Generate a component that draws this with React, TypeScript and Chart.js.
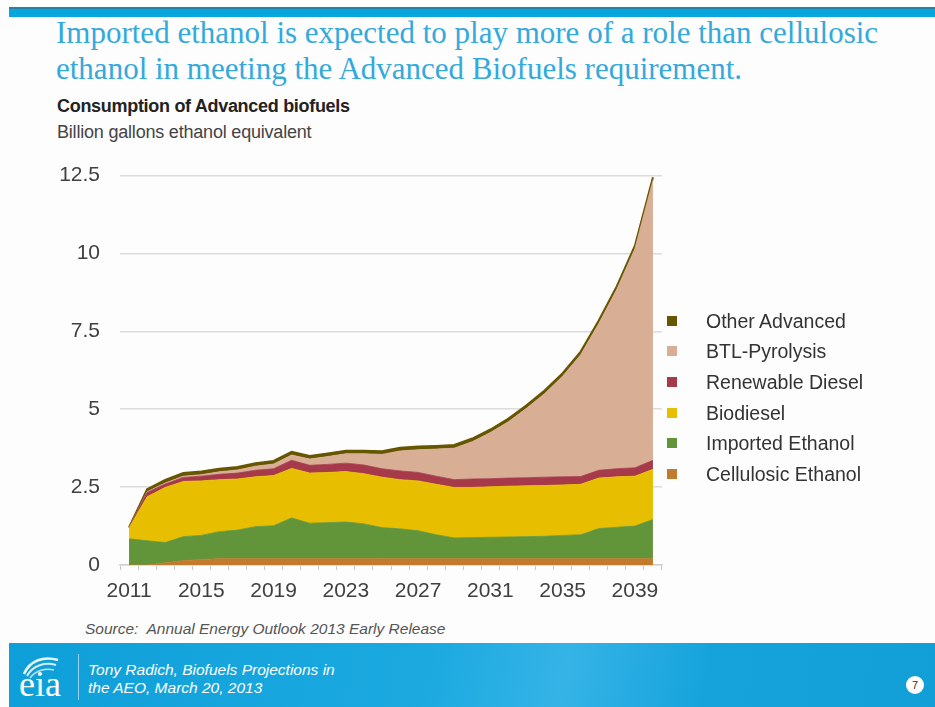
import React, { useEffect, useRef } from 'react';
import { Chart, registerables } from 'chart.js';

Chart.register(...registerables);

// ---------- data ----------
const years = [
  '2011', '2012', '2013', '2014', '2015', '2016', '2017', '2018', '2019', '2020',
  '2021', '2022', '2023', '2024', '2025', '2026', '2027', '2028', '2029', '2030',
  '2031', '2032', '2033', '2034', '2035', '2036', '2037', '2038', '2039', '2040',
];
const xTickLabels = ['2011', '2015', '2019', '2023', '2027', '2031', '2035', '2039'];
const yTickValues = [0, 2.5, 5, 7.5, 10, 12.5];

const cellulosicEthanol = [
  0, 0, 0.07, 0.14, 0.18, 0.2, 0.2, 0.2, 0.2, 0.2,
  0.2, 0.2, 0.2, 0.2, 0.2, 0.2, 0.2, 0.2, 0.2, 0.2,
  0.2, 0.2, 0.2, 0.2, 0.2, 0.2, 0.2, 0.2, 0.2, 0.2,
];
const importedEthanol = [
  0.84, 0.78, 0.65, 0.77, 0.77, 0.87, 0.92, 1.03, 1.06, 1.31,
  1.14, 1.16, 1.18, 1.12, 1.0, 0.96, 0.9, 0.77, 0.67, 0.68,
  0.69, 0.7, 0.71, 0.72, 0.75, 0.77, 0.97, 1.01, 1.05, 1.26,
];
const biodiesel = [
  0.35, 1.41, 1.77, 1.77, 1.75, 1.67, 1.64, 1.6, 1.61, 1.59,
  1.61, 1.61, 1.62, 1.61, 1.62, 1.58, 1.6, 1.62, 1.62, 1.61,
  1.62, 1.63, 1.63, 1.63, 1.62, 1.62, 1.62, 1.62, 1.6, 1.61,
];
const renewableDiesel = [
  0.01, 0.14, 0.11, 0.13, 0.15, 0.17, 0.19, 0.21, 0.22, 0.26,
  0.25, 0.26, 0.27, 0.28, 0.27, 0.28, 0.27, 0.26, 0.25, 0.27,
  0.26, 0.26, 0.26, 0.27, 0.26, 0.25, 0.25, 0.26, 0.27, 0.29,
];
const btlPyrolysis = [
  0, 0.02, 0.03, 0.04, 0.05, 0.08, 0.1, 0.13, 0.15, 0.17,
  0.2, 0.25, 0.3, 0.36, 0.46, 0.64, 0.73, 0.87, 1.01, 1.2,
  1.48, 1.81, 2.23, 2.68, 3.23, 3.91, 4.71, 5.76, 7.03, 8.99,
];
const otherAdvanced = [
  0.01, 0.08, 0.1, 0.1, 0.1, 0.1, 0.1, 0.1, 0.1, 0.1,
  0.1, 0.1, 0.1, 0.1, 0.1, 0.1, 0.1, 0.1, 0.1, 0.1,
  0.1, 0.1, 0.1, 0.1, 0.1, 0.1, 0.1, 0.1, 0.1, 0.1,
];

const seriesNames = [
  'Cellulosic Ethanol',
  'Imported Ethanol',
  'Biodiesel',
  'Renewable Diesel',
  'BTL-Pyrolysis',
  'Other Advanced',
];
const seriesColors = ['#c47a2c', '#62943a', '#e8bf00', '#a63a4a', '#d8ae94', '#675600'];
const seriesData = [
  cellulosicEthanol,
  importedEthanol,
  biodiesel,
  renewableDiesel,
  btlPyrolysis,
  otherAdvanced,
];

const SANS = '"Liberation Sans", Arial, "DejaVu Sans", sans-serif';
const SERIF = '"Liberation Serif", "Times New Roman", serif';

function AreaChart() {
  const ref = useRef<HTMLCanvasElement | null>(null);
  useEffect(() => {
    if (!ref.current) return;
    const chart = new Chart(ref.current, {
      type: 'line',
      data: {
        labels: years,
        datasets: seriesData.map((d, i) => ({
          label: seriesNames[i],
          data: d,
          backgroundColor: seriesColors[i],
          borderColor: seriesColors[i],
          borderWidth: i === 5 ? 2 : 0.8,
          fill: i === 0 ? 'origin' : '-1',
          pointRadius: 0,
          tension: 0,
        })),
      },
      options: {
        animation: false,
        responsive: false,
        maintainAspectRatio: false,
        layout: { padding: { top: 15, right: 18, left: 0, bottom: 0 } },
        plugins: { legend: { display: false }, tooltip: { enabled: false } },
        scales: {
          x: {
            type: 'category',
            offset: true,
            grid: {
              display: true,
              drawOnChartArea: false,
              drawTicks: true,
              tickLength: 5,
              offset: true,
              color: '#c8c8c8',
              lineWidth: 1,
            },
            border: { display: true, color: '#d0d0d0', width: 1.5 },
            ticks: {
              autoSkip: false,
              maxRotation: 0,
              minRotation: 0,
              padding: 9,
              color: '#404040',
              font: { family: SANS, size: 21 },
              callback: (_v: any, idx: number) =>
                xTickLabels.includes(years[idx]) ? years[idx] : '',
            },
            afterFit: (s: any) => {
              s.height = 40;
            },
          },
          y: {
            stacked: true,
            min: yTickValues[0],
            max: yTickValues[yTickValues.length - 1],
            ticks: {
              stepSize: 2.5,
              padding: 20,
              color: '#404040',
              font: { family: SANS, size: 21 },
            },
            grid: { color: '#dcdcdc', lineWidth: 1.5, drawTicks: false },
            border: { display: false },
            afterFit: (s: any) => {
              s.width = 80;
            },
          },
        },
      },
    } as any);
    return () => chart.destroy();
  }, []);
  return (
    <canvas
      ref={ref}
      width={640}
      height={462}
      style={{ position: 'absolute', left: 40, top: 143, width: 640, height: 462 }}
    />
  );
}

const legendOrder = [5, 4, 3, 2, 1, 0];

export default function App() {
  return (
    <div
      style={{
        position: 'absolute',
        left: 0,
        top: 0,
        width: 935,
        height: 707,
        background: '#fdfdfd',
        overflow: 'hidden',
        fontFamily: SANS,
      }}
    >
      {/* top bar */}
      <div style={{ position: 'absolute', left: 9, top: 7, width: 926, height: 10, background: '#07a6dc' }} />
      <div style={{ position: 'absolute', left: 9, top: 7, width: 926, height: 2, background: '#2a7fa6' }} />

      {/* headline */}
      <div
        style={{
          position: 'absolute',
          left: 56,
          top: 14.5,
          fontFamily: SERIF,
          fontSize: 31,
          lineHeight: '36.7px',
          color: '#33a9dc',
          whiteSpace: 'nowrap',
        }}
      >
        <div>Imported ethanol is expected to play more of a role than cellulosic</div>
        <div>ethanol in meeting the Advanced Biofuels requirement.</div>
      </div>

      <div
        style={{
          position: 'absolute',
          left: 57,
          top: 97.3,
          fontSize: 18,
          lineHeight: '18px',
          fontWeight: 'bold',
          color: '#222',
          whiteSpace: 'nowrap',
          letterSpacing: -0.3,
        }}
      >
        Consumption of Advanced biofuels
      </div>
      <div
        style={{
          position: 'absolute',
          left: 57,
          top: 123,
          fontSize: 18,
          lineHeight: '18px',
          color: '#444',
          whiteSpace: 'nowrap',
          letterSpacing: -0.2,
        }}
      >
        Billion gallons ethanol equivalent
      </div>

      <AreaChart />

      {/* legend */}
      {legendOrder.map((si, r) => (
        <div
          key={si}
          style={{
            position: 'absolute',
            left: 667,
            top: 320.7 + r * 30.6 - 12,
            height: 24,
            display: 'flex',
            alignItems: 'center',
            whiteSpace: 'nowrap',
          }}
        >
          <div style={{ width: 10, height: 10, background: seriesColors[si], marginRight: 29 }} />
          <span style={{ fontSize: 19.5, color: '#333', lineHeight: '24px' }}>{seriesNames[si]}</span>
        </div>
      ))}

      {/* source */}
      <div
        style={{
          position: 'absolute',
          left: 85,
          top: 621,
          fontSize: 15.5,
          lineHeight: '16px',
          fontStyle: 'italic',
          color: '#555',
          whiteSpace: 'nowrap',
        }}
      >
        Source:&nbsp; Annual Energy Outlook 2013 Early Release
      </div>

      {/* footer */}
      <div
        style={{
          position: 'absolute',
          left: 9,
          top: 643,
          width: 926,
          height: 64,
          background: 'linear-gradient(100deg, #0f9fd8 0%, #1ba9e0 45%, #35b3e6 60%, #16a3dc 75%, #129fd8 100%)',
        }}
      />
      <svg
        style={{ position: 'absolute', left: 18, top: 652 }}
        width={50}
        height={50}
        viewBox="0 0 50 50"
      >
        <path d="M6 22 C 12 8, 26 4, 40 8" stroke="#fff" strokeWidth={2.5} fill="none" opacity={0.9} />
        <path d="M9 24 C 15 13, 27 10, 38 13" stroke="#fff" strokeWidth={2} fill="none" opacity={0.8} />
        <path d="M12 26 C 18 18, 28 16, 36 18" stroke="#fff" strokeWidth={1.5} fill="none" opacity={0.7} />
      </svg>
      <div
        style={{
          position: 'absolute',
          left: 19,
          top: 666,
          fontFamily: SERIF,
          fontSize: 36,
          lineHeight: '36px',
          color: '#fff',
        }}
      >
        eia
      </div>
      <div
        style={{
          position: 'absolute',
          left: 78,
          top: 654,
          width: 1,
          height: 46,
          background: 'rgba(255,255,255,0.55)',
        }}
      />
      <div
        style={{
          position: 'absolute',
          left: 88,
          top: 661,
          fontSize: 15.5,
          lineHeight: '18px',
          fontStyle: 'italic',
          color: '#fff',
          whiteSpace: 'nowrap',
        }}
      >
        <div>Tony Radich, Biofuels Projections in</div>
        <div>the AEO, March 20, 2013</div>
      </div>
      <div
        style={{
          position: 'absolute',
          left: 906,
          top: 676,
          width: 18,
          height: 18,
          borderRadius: 9,
          background: '#fff',
          color: '#333',
          fontSize: 11,
          lineHeight: '18px',
          textAlign: 'center',
        }}
      >
        7
      </div>
    </div>
  );
}
